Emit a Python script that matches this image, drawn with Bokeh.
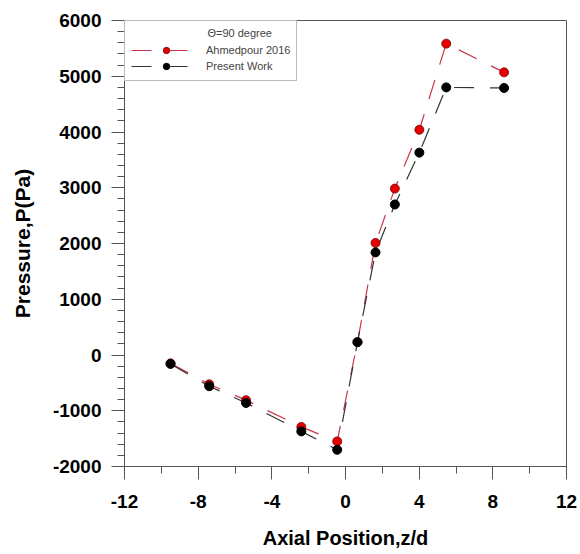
from bokeh.plotting import figure
from bokeh.models import Legend, LegendItem, FixedTicker, Range1d
from bokeh.embed import file_html
from bokeh.resources import INLINE

# data
z_ahmed = [-9.5, -7.4, -5.4, -2.4, -0.45, 0.65, 1.63, 2.68, 4.01, 5.47, 8.61]
p_ahmed = [-150, -525, -810, -1290, -1550, 230, 2010, 2985, 4040, 5585, 5070]
z_present = [-9.5, -7.4, -5.4, -2.4, -0.45, 0.65, 1.63, 2.68, 4.01, 5.47, 8.61]
p_present = [-160, -560, -860, -1370, -1700, 230, 1840, 2700, 3630, 4800, 4790]
x_ticks = [-12, -8, -4, 0, 4, 8, 12]
y_ticks = [-2000, -1000, 0, 1000, 2000, 3000, 4000, 5000, 6000]

p = figure(width=580, height=554, output_backend="svg", toolbar_location=None,
           x_range=Range1d(-12, 12), y_range=Range1d(-2000, 6000),
           min_border_left=124, min_border_right=14, min_border_top=20,
           min_border_bottom=88)
p.grid.visible = False
p.outline_line_color = "#555555"
p.outline_line_width = 1
p.background_fill_color = "white"
p.border_fill_color = "white"

for ax in (p.xaxis[0], p.yaxis[0]):
    ax.axis_line_color = "#555555"
    ax.major_tick_line_color = "#555555"
    ax.minor_tick_line_color = "#555555"
    ax.major_tick_in = 0
    ax.major_tick_out = 13
    ax.minor_tick_in = 0
    ax.minor_tick_out = 7
    ax.major_label_text_font = "Liberation Sans"
    ax.major_label_text_font_style = "bold"
    ax.major_label_text_font_size = "19px"
    ax.major_label_text_color = "black"
    ax.axis_label_text_font = "Liberation Sans"
    ax.axis_label_text_font_style = "bold"
    ax.axis_label_text_color = "black"

p.xaxis.axis_label_text_font_size = "20px"
p.yaxis.axis_label_text_font_size = "21px"
p.xaxis.ticker = FixedTicker(ticks=x_ticks, minor_ticks=list(range(-12, 13, 2)))
p.yaxis.ticker = FixedTicker(ticks=y_ticks, minor_ticks=list(range(-2000, 6001, 200)))
p.xaxis.major_label_overrides = {t: str(t) for t in x_ticks}
p.yaxis.major_label_overrides = {t: str(t) for t in y_ticks}
p.xaxis.axis_label = "Axial Position,z/d"
p.yaxis.axis_label = "Pressure,P(Pa)"
p.xaxis.major_label_standoff = 15
p.yaxis.major_label_standoff = 10
p.xaxis.axis_label_standoff = 16
p.yaxis.axis_label_standoff = 16

red_line = p.line(z_ahmed, p_ahmed, line_color="#c8374a", line_width=1.2, line_dash="20 16")
black_line = p.line(z_present, p_present, line_color="#333333", line_width=1.2, line_dash="20 16")
red_pts = p.scatter(z_ahmed, p_ahmed, size=9, fill_color="#e80000", line_color="#700000", line_width=0.8)
black_pts = p.scatter(z_present, p_present, size=9, fill_color="black", line_color="black")

legend = Legend(items=[
    LegendItem(label="Ahmedpour 2016", renderers=[red_line, red_pts]),
    LegendItem(label="Present Work", renderers=[black_line, black_pts]),
], location="top_left")
legend.title = "                         \u0398=90 degree"
legend.title_text_font = "Liberation Sans"
legend.title_text_font_size = "11px"
legend.title_text_font_style = "normal"
legend.title_standoff = 3
legend.label_text_font = "Liberation Sans"
legend.label_text_font_size = "11px"
legend.glyph_width = 70
legend.glyph_height = 16
legend.label_height = 16
legend.spacing = 0
legend.padding = 6
legend.margin = 0
legend.border_line_color = "#777777"
legend.border_line_width = 1
legend.background_fill_alpha = 1
p.add_layout(legend)

open("out.html", "w").write(file_html(p, INLINE))
